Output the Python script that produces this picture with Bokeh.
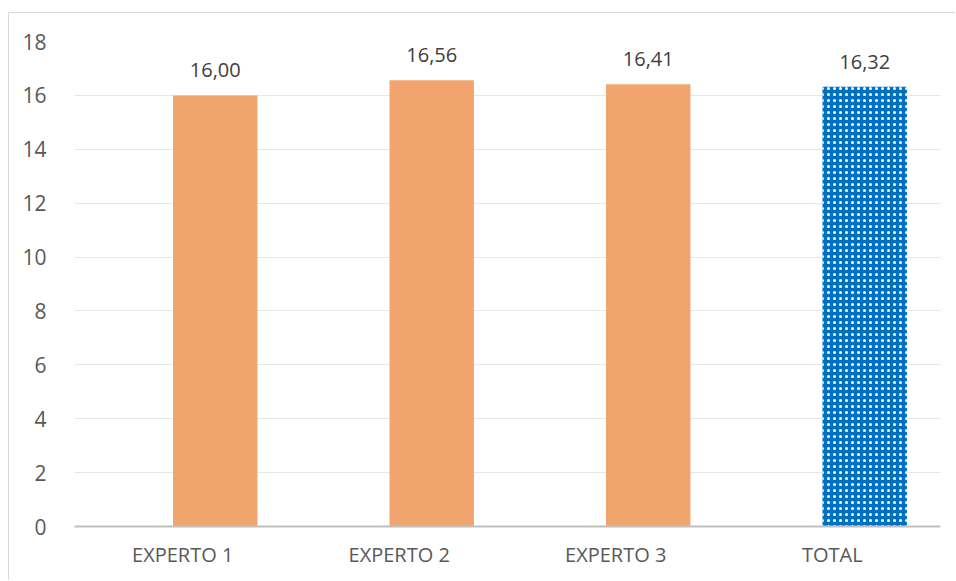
from bokeh.plotting import figure
from bokeh.models import ColumnDataSource, FactorRange, Range1d, FixedTicker
from bokeh.transform import dodge
from bokeh.core.properties import value
from bokeh.embed import file_html
from bokeh.resources import INLINE

categories = ["EXPERTO 1", "EXPERTO 2", "EXPERTO 3", "TOTAL"]
values = [16.00, 16.56, 16.41, 16.32]
labels = ["16,00", "16,56", "16,41", "16,32"]
y_ticks = [0, 2, 4, 6, 8, 10, 12, 14, 16, 18]

FONT = "Open Sans"

p = figure(width=947, height=568, x_range=FactorRange(*categories, range_padding=0),
           y_range=Range1d(0, 18), output_backend="svg", toolbar_location=None,
           min_border_left=65, min_border_right=16, min_border_top=28, min_border_bottom=55,
           styles={"margin-left": "8px", "margin-top": "12px",
                   "border-left": "1px solid #D9D9D9", "border-top": "1px solid #D9D9D9"})
p.outline_line_color = None
p.background_fill_color = "white"
p.border_fill_color = "white"

src_main = ColumnDataSource(dict(x=categories[:3], y=values[:3], label=labels[:3]))
src_total = ColumnDataSource(dict(x=categories[3:], y=values[3:], label=labels[3:]))

xd = dodge("x", 0.15, range=p.x_range)
p.vbar(x=xd, top="y", bottom=0, width=0.39, source=src_main,
       fill_color="#F2A46E", line_color=None)
p.vbar(x=xd, top="y", bottom=0, width=0.39, source=src_total,
       fill_color="#0070C0", line_color=None,
       hatch_pattern="dot", hatch_color="white", hatch_scale=6, hatch_weight=1)

for src in (src_main, src_total):
    p.text(x=xd, y="y", text="label", source=src, text_align="center",
           text_baseline="alphabetic", y_offset=-25, text_font=value(FONT),
           text_font_size="20px", text_color="#404040")

p.yaxis.ticker = FixedTicker(ticks=y_ticks)
p.yaxis.axis_line_color = None
p.yaxis.major_tick_line_color = None
p.yaxis.minor_tick_line_color = None
p.yaxis.major_label_standoff = 22
p.yaxis.major_label_text_font = FONT
p.yaxis.major_label_text_font_size = "21px"
p.yaxis.major_label_text_color = "#595959"

p.xaxis.axis_line_color = "#BFBFBF"
p.xaxis.axis_line_width = 2
p.xaxis.major_tick_line_color = None
p.xaxis.minor_tick_line_color = None
p.xaxis.major_label_standoff = 8
p.xaxis.major_label_text_font = FONT
p.xaxis.major_label_text_font_size = "20px"
p.xaxis.major_label_text_color = "#595959"

p.xgrid.grid_line_color = None
p.ygrid.grid_line_color = "#E6E6E6"
p.ygrid.grid_line_width = 1

open("out.html", "w").write(file_html(p, INLINE))
